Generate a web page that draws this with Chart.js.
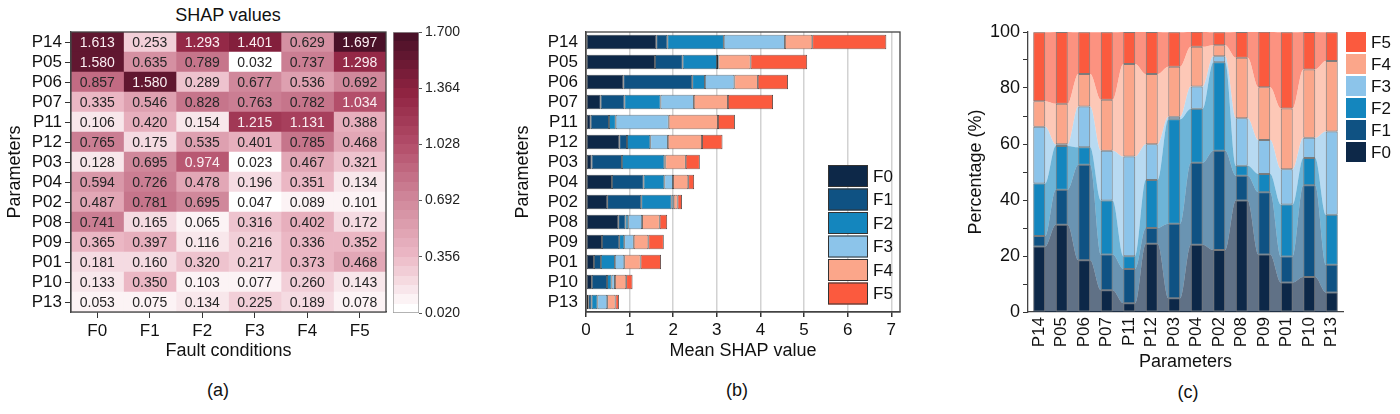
<!DOCTYPE html>
<html>
<head>
<meta charset="utf-8">
<script src="https://cdn.jsdelivr.net/npm/chart.js@4.4.1/dist/chart.umd.min.js"></script>
<style>
  body { margin: 0; background: #fff; width: 1400px; height: 414px; position: relative; overflow: hidden;
         font-family: "Liberation Sans", Arial, sans-serif; color: #111; }
  .pane { position: absolute; }
  .lbl { position: absolute; font-size: 18px; transform: translateX(-50%); white-space: nowrap; }
</style>
</head>
<body>
<div class="lbl" style="left:228px;top:5px">SHAP values</div>
<div class="pane" style="left:0;top:0;width:392px;height:364px"><canvas id="heat"></canvas></div>
<div class="pane" style="left:393px;top:0;width:70px;height:364px"><canvas id="cbar"></canvas></div>
<div class="pane" style="left:510px;top:0;width:400px;height:364px"><canvas id="mean"></canvas></div>
<div class="pane" style="left:963px;top:0;width:437px;height:375px"><canvas id="pct"></canvas></div>
<div class="lbl" style="left:218px;top:380px">(a)</div>
<div class="lbl" style="left:737px;top:380px">(b)</div>
<div class="lbl" style="left:1188px;top:382px">(c)</div>

<script>
const params = ["P14", "P05", "P06", "P07", "P11", "P12", "P03", "P04", "P02", "P08", "P09", "P01", "P10", "P13"];
const faults = ["F0", "F1", "F2", "F3", "F4", "F5"];

// mean |SHAP| per parameter, one array per fault condition (rows in params order)
const shapF0 = [1.613, 1.580, 0.857, 0.335, 0.106, 0.765, 0.128, 0.594, 0.487, 0.741, 0.365, 0.181, 0.133, 0.053];
const shapF1 = [0.253, 0.635, 1.580, 0.546, 0.420, 0.175, 0.695, 0.726, 0.781, 0.165, 0.397, 0.160, 0.350, 0.075];
const shapF2 = [1.293, 0.789, 0.289, 0.828, 0.154, 0.535, 0.974, 0.478, 0.695, 0.065, 0.116, 0.320, 0.103, 0.134];
const shapF3 = [1.401, 0.032, 0.677, 0.763, 1.215, 0.401, 0.023, 0.196, 0.047, 0.316, 0.216, 0.217, 0.077, 0.225];
const shapF4 = [0.629, 0.737, 0.536, 0.782, 1.131, 0.785, 0.467, 0.351, 0.089, 0.402, 0.336, 0.373, 0.260, 0.189];
const shapF5 = [1.697, 1.298, 0.692, 1.034, 0.388, 0.468, 0.321, 0.134, 0.101, 0.172, 0.352, 0.468, 0.143, 0.078];

// share of each fault in a parameter's total (%)
const pctF0 = [23.4, 31.2, 18.5, 7.8, 3.1, 24.4, 4.9, 24.0, 22.1, 39.8, 20.5, 10.5, 12.5, 7.0];
const pctF1 = [3.7, 12.5, 34.1, 12.7, 12.3, 5.6, 26.6, 29.3, 35.5, 8.9, 22.3, 9.3, 32.8, 9.9];
const pctF2 = [18.8, 15.6, 6.2, 19.3, 4.5, 17.1, 37.3, 19.3, 31.6, 3.5, 6.5, 18.6, 9.7, 17.8];
const pctF3 = [20.3, 0.6, 14.6, 17.8, 35.6, 12.8, 0.9, 7.9, 2.1, 17.0, 12.1, 12.6, 7.2, 29.8];
const pctF4 = [9.1, 14.5, 11.6, 18.2, 33.1, 25.1, 17.9, 14.2, 4.0, 21.6, 18.9, 21.7, 24.4, 25.1];
const pctF5 = [24.6, 25.6, 14.9, 24.1, 11.4, 15.0, 12.3, 5.4, 4.6, 9.2, 19.8, 27.2, 13.4, 10.3];

const cbTicks = [0.020, 0.356, 0.692, 1.028, 1.364, 1.700];
const meanTicks = [0, 1, 2, 3, 4, 5, 6, 7];
const pctTicks = [0, 10, 20, 30, 40, 50, 60, 70, 80, 90, 100];

const shapBy = [shapF0, shapF1, shapF2, shapF3, shapF4, shapF5];
const pctBy = [pctF0, pctF1, pctF2, pctF3, pctF4, pctF5];

const faultColors = ["#0d2848", "#0f5283", "#1486be", "#8cc4ea", "#fba68a", "#fb5a3e"];
const faultAreas = ["rgba(13,40,72,0.66)", "rgba(15,82,131,0.62)", "rgba(20,134,190,0.62)",
                    "rgba(140,196,234,0.62)", "rgba(251,166,138,0.62)", "rgba(251,90,62,0.66)"];

const FONT = '"Liberation Sans", Arial, sans-serif';
Chart.defaults.font.family = FONT;
Chart.defaults.color = "#111";

// heatmap colour ramp (white -> maroon), banded like the original
const rampStops = [[0, [255, 255, 255]], [0.2, [235, 183, 196]], [0.4, [208, 136, 155]],
                   [0.6, [179, 78, 106]], [0.8, [142, 34, 64]], [1, [74, 17, 40]]];
const BANDS = 30;
function rampAt(t) {
  t = Math.max(0, Math.min(1, t));
  for (let k = 1; k < rampStops.length; k++) {
    const [t1, c1] = rampStops[k];
    const [t0, c0] = rampStops[k - 1];
    if (t <= t1) {
      const f = (t - t0) / (t1 - t0);
      const c = c0.map((v, i) => Math.round(v + (c1[i] - v) * f));
      return `rgb(${c[0]},${c[1]},${c[2]})`;
    }
  }
  return "rgb(74,17,40)";
}
const cbMin = cbTicks[0], cbMax = cbTicks[cbTicks.length - 1];
function shapColor(v) {
  const t = (v - cbMin) / (cbMax - cbMin);
  return rampAt(Math.round(t * BANDS) / BANDS);
}

const frame = {
  id: "frame",
  afterDraw(chart, args, opts) {
    const a = chart.chartArea, ctx = chart.ctx;
    ctx.save();
    ctx.strokeStyle = opts.color || "#333";
    ctx.lineWidth = opts.width || 1.2;
    ctx.strokeRect(a.left, a.top, a.right - a.left, a.bottom - a.top);
    ctx.restore();
  }
};

const cellText = {
  id: "cellText",
  afterDatasetsDraw(chart) {
    const ctx = chart.ctx;
    ctx.save();
    ctx.font = "14px " + FONT;
    ctx.textAlign = "center";
    ctx.textBaseline = "middle";
    shapBy.forEach((vals, j) => {
      chart.getDatasetMeta(j).data.forEach((bar, i) => {
        const v = vals[i];
        ctx.fillStyle = v > 0.9 ? "#fbeef2" : "#262626";
        ctx.fillText(v.toFixed(3), (bar.x + bar.base) / 2, bar.y + 1);
      });
    });
    ctx.restore();
  }
};

const boxLegend = {
  id: "boxLegend",
  afterDraw(chart, args, o) {
    const a = chart.chartArea, ctx = chart.ctx;
    const n = faults.length;
    const left = a.right + o.dx;
    const top = o.fromBottom ? a.bottom - o.dy - n * o.pitch : a.top + o.dy;
    ctx.save();
    ctx.font = "17px " + FONT;
    ctx.textBaseline = "middle";
    ctx.textAlign = "left";
    for (let k = 0; k < n; k++) {
      const j = o.reverse ? n - 1 - k : k;
      const y = top + k * o.pitch;
      ctx.fillStyle = faultColors[j];
      ctx.fillRect(left, y, o.boxW, o.boxH);
      if (o.stroke) {
        ctx.strokeStyle = o.stroke;
        ctx.lineWidth = 1;
        ctx.strokeRect(left + 0.5, y + 0.5, o.boxW - 1, o.boxH - 1);
      }
      ctx.fillStyle = "#111";
      ctx.fillText(faults[j], left + o.boxW + 5, y + o.boxH / 2 + 1);
    }
    ctx.restore();
  }
};

const tickFont = { size: 17 };
const titleFont = { size: 18 };

// (a) heatmap
new Chart(document.getElementById("heat"), {
  type: "bar",
  data: {
    labels: params,
    datasets: shapBy.map((vals, j) => ({
      label: faults[j],
      xAxisID: "xv",
      data: vals.map(() => [j, j + 1]),
      backgroundColor: vals.map(shapColor),
      borderWidth: 0,
      barPercentage: 1,
      categoryPercentage: 1,
      grouped: false
    }))
  },
  options: {
    indexAxis: "y",
    responsive: true,
    maintainAspectRatio: false,
    animation: false,
    layout: { padding: { top: 32, right: 6, left: 0, bottom: 0 } },
    plugins: { legend: { display: false }, tooltip: { enabled: false }, frame: { color: "#444", width: 1.3 } },
    scales: {
      xv: { type: "linear", min: 0, max: faults.length, offset: false, display: false },
      x: {
        type: "category", labels: faults, offset: true, position: "bottom",
        grid: { drawOnChartArea: false, offset: false, tickLength: 6, tickColor: "#333" },
        border: { color: "#444", width: 1.3 },
        ticks: { font: tickFont, color: "#111", padding: 3 },
        title: { display: true, text: "Fault conditions", font: titleFont, color: "#111", padding: { top: 0, bottom: 2 } },
        afterFit: s => { s.height = 52; }
      },
      y: {
        type: "category", offset: true,
        grid: { drawOnChartArea: false, offset: false, tickLength: 6, tickColor: "#333" },
        border: { color: "#444", width: 1.3 },
        ticks: { font: tickFont, color: "#111", padding: 3, autoSkip: false },
        title: { display: true, text: "Parameters", font: titleFont, color: "#111", padding: { top: 4, bottom: 0 } },
        afterFit: s => { s.width = 71; }
      }
    }
  },
  plugins: [cellText, frame]
});

// colour bar
function cbGradient(chart) {
  const a = chart.chartArea;
  if (!a) return rampAt(0.5);
  const g = chart.ctx.createLinearGradient(0, a.bottom, 0, a.top);
  for (let k = 0; k < BANDS; k++) {
    const c = rampAt(k / (BANDS - 1));
    g.addColorStop(k / BANDS, c);
    g.addColorStop((k + 1) / BANDS, c);
  }
  return g;
}
new Chart(document.getElementById("cbar"), {
  type: "bar",
  data: {
    labels: [""],
    datasets: [{
      data: [[cbMin, cbMax]],
      backgroundColor: ctx => cbGradient(ctx.chart),
      borderColor: "#9a9a9a",
      borderWidth: 1,
      borderSkipped: false,
      barPercentage: 1,
      categoryPercentage: 1
    }]
  },
  options: {
    responsive: true,
    maintainAspectRatio: false,
    animation: false,
    layout: { padding: { top: 32, bottom: 51, left: 0, right: 0 } },
    plugins: { legend: { display: false }, tooltip: { enabled: false } },
    scales: {
      x: { display: false },
      y: {
        position: "right", min: cbMin, max: cbMax,
        afterBuildTicks: s => { s.ticks = cbTicks.map(v => ({ value: v })); },
        ticks: { callback: v => Number(v).toFixed(3), font: { size: 14 }, color: "#222", padding: 3 },
        grid: { drawOnChartArea: false, tickLength: 3, tickColor: "#555" },
        border: { display: false },
        afterFit: s => { s.width = 44; }
      }
    }
  }
});

// (b) stacked mean SHAP
new Chart(document.getElementById("mean"), {
  type: "bar",
  data: {
    labels: params,
    datasets: shapBy.map((vals, j) => ({
      label: faults[j],
      data: vals,
      backgroundColor: faultColors[j],
      borderColor: "#2e2e2e",
      borderWidth: 0.8,
      borderSkipped: false,
      barPercentage: 0.72,
      categoryPercentage: 1
    }))
  },
  options: {
    indexAxis: "y",
    responsive: true,
    maintainAspectRatio: false,
    animation: false,
    layout: { padding: { top: 32, right: 10, left: 0, bottom: 0 } },
    plugins: {
      legend: { display: false }, tooltip: { enabled: false },
      frame: { color: "#444", width: 1.3 },
      boxLegend: { dx: -72, dy: 6, fromBottom: true, boxW: 40, boxH: 22, pitch: 23.5, reverse: false, stroke: "#333" }
    },
    scales: {
      x: {
        stacked: true, min: 0, max: 7.2,
        afterBuildTicks: s => { s.ticks = meanTicks.map(v => ({ value: v })); },
        grid: { color: c => (c.tick && c.tick.value === 0 ? "rgba(0,0,0,0)" : "#d2d2d2"), lineWidth: 1.5, tickLength: 5, tickColor: "#333" },
        border: { color: "#444", width: 1.3 },
        ticks: { font: tickFont, color: "#111", padding: 3 },
        title: { display: true, text: "Mean SHAP value", font: titleFont, color: "#111", padding: { top: 0, bottom: 2 } },
        afterFit: s => { s.height = 52; }
      },
      y: {
        stacked: true,
        grid: { drawOnChartArea: false, drawTicks: false },
        border: { color: "#444", width: 1.3 },
        ticks: { font: tickFont, color: "#111", padding: 8, autoSkip: false },
        title: { display: true, text: "Parameters", font: titleFont, color: "#111", padding: { top: 2, bottom: 0 } },
        afterFit: s => { s.width = 76; }
      }
    }
  },
  plugins: [frame, boxLegend]
});

// (c) percentage columns with connecting areas
const half = 0.265;
const areaSets = pctBy.map((vals, j) => ({
  type: "line",
  label: faults[j] + " area",
  xAxisID: "xl",
  stack: "area",
  order: 1,
  data: vals.flatMap((v, i) => [{ x: i - half, y: v }, { x: i + half, y: v }]),
  backgroundColor: faultAreas[j],
  borderWidth: 0,
  pointRadius: 0,
  fill: j === 0 ? "origin" : "-1",
  cubicInterpolationMode: "monotone"
}));
const columnSets = pctBy.map((vals, j) => ({
  type: "bar",
  label: faults[j],
  xAxisID: "x",
  stack: "cols",
  order: 0,
  grouped: false,
  data: vals,
  backgroundColor: faultColors[j],
  borderColor: "rgba(120,120,120,0.95)",
  borderWidth: 1,
  borderSkipped: false,
  barPercentage: 0.53,
  categoryPercentage: 1
}));
new Chart(document.getElementById("pct"), {
  type: "bar",
  data: { labels: params, datasets: [...areaSets, ...columnSets] },
  options: {
    responsive: true,
    maintainAspectRatio: false,
    animation: false,
    layout: { padding: { top: 32, right: 57, left: 0, bottom: 0 } },
    plugins: {
      legend: { display: false }, tooltip: { enabled: false },
      boxLegend: { dx: 3, dy: 0, fromBottom: false, boxW: 20, boxH: 20, pitch: 22, reverse: true, stroke: null }
    },
    scales: {
      xl: { type: "linear", min: -0.5, max: params.length - 0.5, offset: false, stacked: true, display: false },
      x: {
        type: "category", offset: true, stacked: true,
        grid: { drawOnChartArea: false, drawTicks: false },
        border: { color: "#444", width: 1.3 },
        ticks: { font: tickFont, color: "#111", padding: 5, minRotation: 90, maxRotation: 90, autoSkip: false },
        title: { display: true, text: "Parameters", font: titleFont, color: "#111", padding: { top: 0, bottom: 2 } },
        afterFit: s => { s.height = 63; }
      },
      y: {
        stacked: true, min: 0, max: 100,
        afterBuildTicks: s => { s.ticks = pctTicks.map(v => ({ value: v })); },
        grid: { drawOnChartArea: false, tickLength: 5, tickColor: "#333" },
        border: { color: "#444", width: 1.3 },
        ticks: { font: { size: 18 }, color: "#111", padding: 3, callback: v => (v % 20 === 0 ? v : "") },
        title: { display: true, text: "Percentage (%)", font: titleFont, color: "#111", padding: { top: 2, bottom: 0 } },
        afterFit: s => { s.width = 65; }
      }
    }
  },
  plugins: [boxLegend]
});
</script>
</body>
</html>
